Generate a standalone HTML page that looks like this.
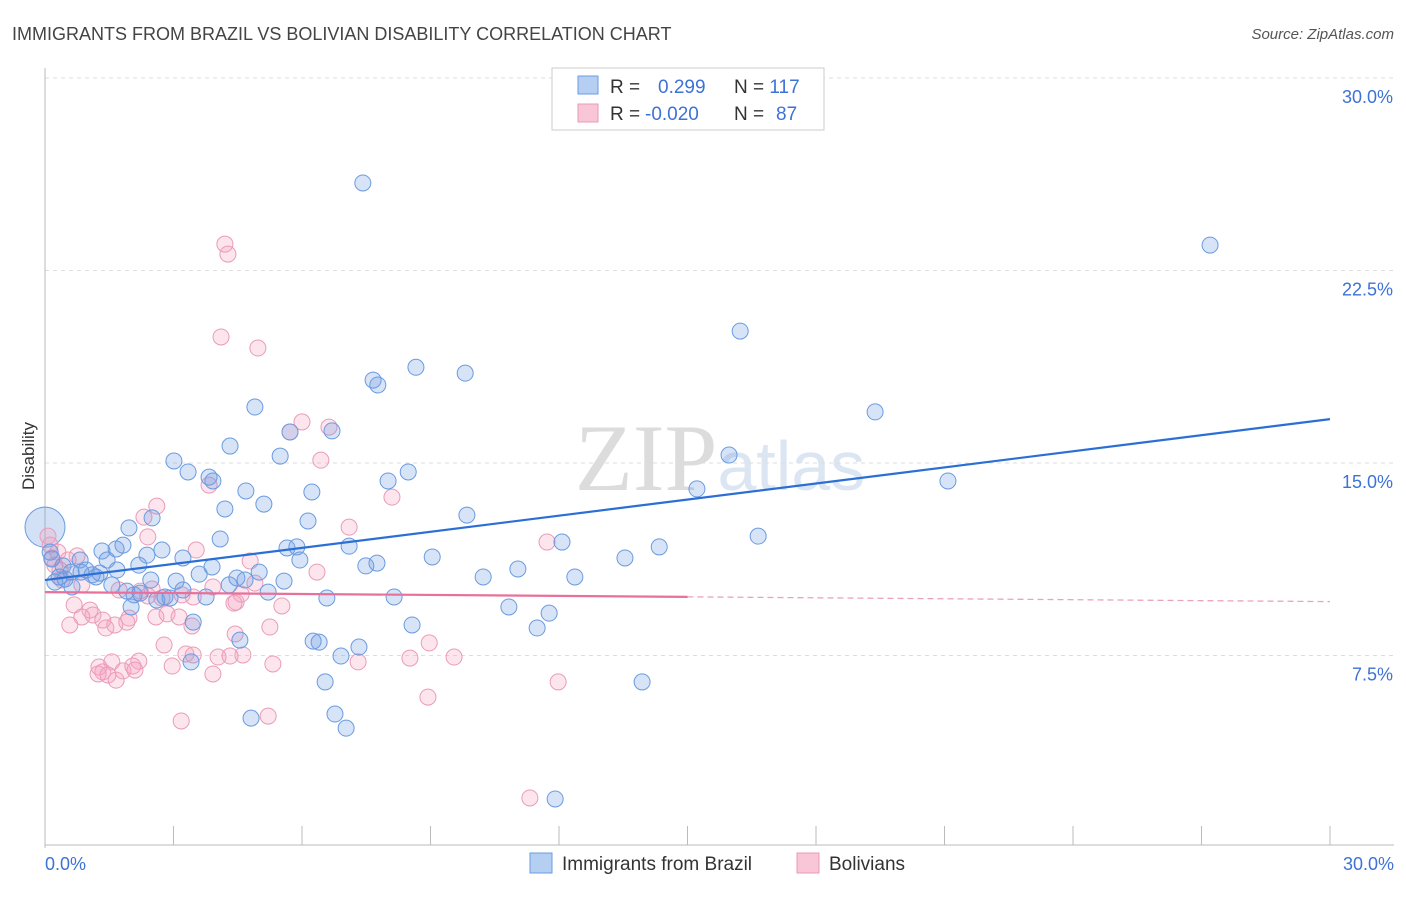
<!DOCTYPE html>
<html><head><meta charset="utf-8"><style>
body{margin:0;background:#fff;font-family:"Liberation Sans",sans-serif;}
svg text{font-family:"Liberation Sans",sans-serif;}
</style></head><body>
<svg id="chart" width="1406" height="892" xmlns="http://www.w3.org/2000/svg">
<text x="12" y="40" font-size="18" fill="#444">IMMIGRANTS FROM BRAZIL VS BOLIVIAN DISABILITY CORRELATION CHART</text>
<text x="1394" y="39" font-size="15" fill="#555" font-style="italic" text-anchor="end">Source: ZipAtlas.com</text>
<text x="720" y="490" font-size="95" fill="#e6e6e6" text-anchor="middle" font-family="Liberation Serif"><tspan fill="#dcdcdc" font-family="Liberation Serif">ZIP</tspan><tspan fill="#dce6f3" font-size="70" font-family="Liberation Sans">atlas</tspan></text>
<g id="grid"></g>
<g id="axes"></g>
<g id="marks"></g>
<text transform="translate(34,456) rotate(-90)" font-size="17" fill="#333" text-anchor="middle">Disability</text>
<g>
<rect x="552" y="68" width="272" height="62" fill="#fff" stroke="#ccc"/>
<rect x="578" y="76" width="20" height="18" fill="#b5cff3" stroke="#6a9be0"/>
<rect x="578" y="104" width="20" height="18" fill="#f8c6d6" stroke="#e89ab5"/>
<text x="610" y="93" font-size="19" fill="#333">R =  <tspan fill="#3d72d6" x="658">0.299</tspan><tspan x="734" fill="#333">N = </tspan><tspan fill="#3d72d6">117</tspan></text>
<text x="610" y="120" font-size="19" fill="#333">R = <tspan fill="#3d72d6" x="645">-0.020</tspan><tspan x="734" fill="#333">N = </tspan><tspan fill="#3d72d6" x="776">87</tspan></text>
</g>
<g>
<rect x="530" y="853" width="22" height="20" fill="#b5cff3" stroke="#6a9be0"/>
<text x="562" y="870" font-size="19" fill="#333">Immigrants from Brazil</text>
<rect x="797" y="853" width="22" height="20" fill="#f8c6d6" stroke="#e89ab5"/>
<text x="829" y="870" font-size="19" fill="#333">Bolivians</text>
</g>
</svg>
<script>
const blueX=[7.42,27.2,16.23,8.66,9.81,7.66,7.77,19.38,4.9,6.7,5.72,4.32,3.01,3.34,5.49,3.83,3.92,8.48,15.97,21.08,15.22,8.01,6.23,4.69,5.11,4.2,9.85,2.5,1.96,6.14,4.09,16.65,14.34,12.07,13.54,9.04,7.1,7.75,7.49,5.88,5.65,5.95,3.22,2.73,2.38,1.82,1.66,1.33,1.45,2.19,3.9,3.6,5.0,4.48,4.67,5.58,3.06,2.47,12.37,11.04,10.23,1.68,1.28,0.96,0.61,0.84,1.19,0.33,0.47,0.42,0.16,0.12,0.23,1.56,1.91,2.22,2.61,2.8,2.92,2.08,3.22,4.3,5.21,3.76,2.01,6.58,8.15,10.83,11.77,3.46,11.49,8.57,4.55,6.4,6.26,7.33,6.91,3.41,13.94,6.54,4.81,6.77,7.03,11.91,0.63,0.82,1.1];
const blueY=[25.91,23.49,20.14,18.73,18.5,18.23,18.04,16.99,17.18,16.25,16.21,15.66,15.08,14.65,15.27,14.45,14.3,14.65,15.31,14.3,13.99,14.3,13.87,13.91,13.4,13.21,12.97,12.86,12.47,12.74,12.04,12.15,11.73,11.92,11.3,11.34,11.76,11.1,10.99,11.73,11.69,11.22,11.3,11.61,11.41,11.8,11.65,11.57,11.22,11.02,10.95,10.67,10.75,10.52,10.44,10.4,10.4,10.44,10.56,10.87,10.56,10.83,10.71,10.83,10.75,10.75,10.56,10.56,10.48,10.99,11.26,11.53,10.36,10.25,10.01,9.93,9.66,9.78,9.74,9.86,10.05,10.25,9.97,9.78,9.39,9.74,9.78,9.39,9.15,8.8,8.57,8.69,8.1,8.02,8.06,7.83,7.48,7.25,6.47,6.47,5.06,5.22,4.67,1.91,10.17,11.22,10.64];
const pinkX=[4.2,4.27,4.11,4.97,6.0,5.72,6.63,6.44,3.83,8.1,2.61,2.31,7.1,2.4,11.72,3.53,4.79,6.35,0.07,0.12,0.3,0.16,0.75,0.54,0.35,0.23,1.73,2.22,2.4,2.5,2.73,3.2,3.46,3.92,4.46,0.68,1.05,1.12,0.86,0.58,1.35,1.42,1.96,1.91,1.63,2.59,2.85,3.13,4.41,5.53,5.25,4.44,2.78,4.62,3.29,3.46,4.04,4.32,1.26,1.56,2.19,1.35,1.24,1.47,1.66,1.82,2.05,2.1,2.97,3.92,5.32,7.31,8.52,8.97,9.55,11.98,8.94,3.18,5.21,11.32,0.86,0.4,4.58,3.43,4.9];
const pinkY=[23.53,23.14,19.91,19.48,16.6,16.21,16.4,15.11,14.14,13.67,13.32,12.89,12.5,12.12,11.92,11.61,11.18,10.75,12.15,11.8,11.53,11.3,11.38,11.22,10.83,11.02,10.05,10.01,9.82,10.09,9.74,9.86,9.78,10.17,9.58,9.47,9.27,9.08,9.0,8.69,8.88,8.57,8.96,8.8,8.69,9.0,9.12,9.0,9.54,9.43,8.61,8.34,7.91,7.52,7.56,7.52,7.44,7.48,7.05,7.25,7.28,6.86,6.78,6.74,6.54,6.9,7.09,6.93,7.09,6.78,7.17,7.25,7.4,7.99,7.44,6.47,5.88,4.95,5.14,1.95,10.25,10.44,9.89,8.65,10.32];
const blueTrend=[10.44,16.71];
const pinkTrend=[9.97,9.6];
const yTicks=[7.5,15,22.5,30];
const yTickLabels=["7.5%","15.0%","22.5%","30.0%"];
const xTicks=[0,3,6,9,12,15,18,21,24,27,30];

const NS="http://www.w3.org/2000/svg";
const X0=45,X1=1330,Y0=848,Y1=78;
function sx(v){return X0+(X1-X0)*v/30;}
function sy(v){return Y0-(Y0-Y1)*v/30;}
function mk(tag,attrs,parent){const e=document.createElementNS(NS,tag);for(const k in attrs)e.setAttribute(k,attrs[k]);parent.appendChild(e);return e;}
const grid=document.getElementById('grid'),axes=document.getElementById('axes'),marks=document.getElementById('marks');
yTicks.forEach((t,i)=>{
  const l=mk('line',{x1:X0,x2:1394,y1:sy(t),y2:sy(t),stroke:'#ddd','stroke-dasharray':'4,4'},grid);
  
  
  const tx=mk('text',{x:1393,y:sy(t)+25,'font-size':18,fill:'#3d72d6','text-anchor':'end'},axes);
  tx.textContent=yTickLabels[i];
  
  
});
const ax=mk('line',{x1:X0,x2:X0,y1:68,y2:Y0,stroke:'#bbb'},axes);


const bx=mk('line',{x1:X0,x2:1394,y1:845,y2:845,stroke:'#bbb'},axes);


xTicks.forEach(t=>{
  const l=mk('line',{x1:sx(t),x2:sx(t),y1:826,y2:845,stroke:'#bbb'},axes);
  
  
});
const xl0=mk('text',{x:45,y:870,'font-size':18,fill:'#3d72d6'},axes);xl0.textContent=xTicks[0].toFixed(1)+"%";


const xl1=mk('text',{x:1394,y:870,'font-size':18,fill:'#3d72d6','text-anchor':'end'},axes);xl1.textContent=xTicks[xTicks.length-1].toFixed(1)+"%";


// points
const big=mk('circle',{cx:sx(0),cy:sy(12.5),r:20,fill:'rgba(110,155,225,0.3)',stroke:'#6a9be0','stroke-width':1},marks);


pinkX.forEach((x,i)=>{
  const c=mk('circle',{cx:sx(x),cy:sy(pinkY[i]),r:8,fill:'rgba(244,160,190,0.28)',stroke:'#eb9bb8','stroke-width':1},marks);
  
  
});
blueX.forEach((x,i)=>{
  const c=mk('circle',{cx:sx(x),cy:sy(blueY[i]),r:8,fill:'rgba(110,155,225,0.28)',stroke:'#6a9be0','stroke-width':1},marks);
  
  
});
const bt=mk('line',{x1:sx(0),y1:sy(blueTrend[0]),x2:sx(30),y2:sy(blueTrend[1]),stroke:'#2a6fd6','stroke-width':2.2},marks);


const pm=pinkTrend[0]+(pinkTrend[1]-pinkTrend[0])*15/30;
const pt=mk('line',{x1:sx(0),y1:sy(pinkTrend[0]),x2:sx(15),y2:sy(pm),stroke:'#e8709a','stroke-width':2.2},marks);


const pd=mk('line',{x1:sx(15),y1:sy(pm),x2:sx(30),y2:sy(pinkTrend[1]),stroke:'#eba3bc','stroke-width':1.3,'stroke-dasharray':'6,4'},marks);


</script>
</body></html>
